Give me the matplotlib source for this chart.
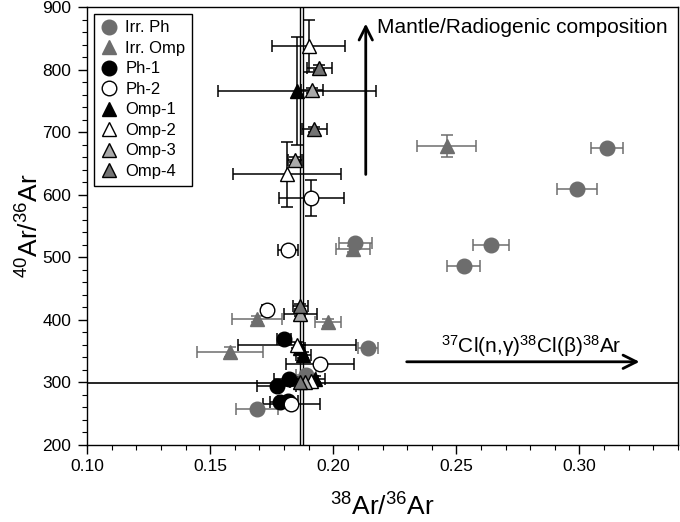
import matplotlib
matplotlib.use('Agg')
import matplotlib.pyplot as plt
from matplotlib.ticker import MultipleLocator

plt.rcParams['font.family'] = ['Liberation Sans', 'DejaVu Sans']
plt.rcParams['mathtext.fontset'] = 'custom'
plt.rcParams['mathtext.rm'] = 'Liberation Sans'
plt.rcParams['mathtext.it'] = 'Liberation Sans:italic'

# datos: 38Ar/36Ar, 40Ar/36Ar y sus errores
irr_ph_x = [0.311, 0.299, 0.264, 0.253, 0.209, 0.214, 0.169, 0.189]
irr_ph_y = [675, 609, 520, 486, 523, 355, 258, 312]
irr_ph_xerr = [0.0065, 0.0083, 0.0073, 0.0067, 0.0066, 0.004, 0.0086, 0.004]
irr_ph_yerr = [4, 4, 4, 4, 4, 4, 4, 4]

irr_omp_x = [0.246, 0.208, 0.169, 0.198, 0.158]
irr_omp_y = [678, 513, 401, 396, 348]
irr_omp_xerr = [0.012, 0.007, 0.010, 0.0053, 0.0133]
irr_omp_yerr = [17, 5, 5, 5, 8]

ph1_x = [0.180, 0.182, 0.177, 0.1785, 0.1815]
ph1_y = [369, 305, 294, 268, 270]
ph1_xerr = [0.003, 0.006, 0.008, 0.004, 0.004]
ph1_yerr = [5, 5, 5, 5, 5]

ph2_x = [0.191, 0.1817, 0.1731, 0.1947, 0.1829]
ph2_y = [595, 511, 415, 329, 266]
ph2_xerr = [0.0132, 0.004, 0.002, 0.0137, 0.0116]
ph2_yerr = [29, 5, 5, 5, 5]

omp1_x = [0.1853, 0.1879, 0.1865, 0.1926]
omp1_y = [766, 344, 355, 305]
omp1_xerr = [0.032, 0.003, 0.002, 0.004]
omp1_yerr = [86, 5, 5, 5]

omp2_x = [0.190, 0.1811, 0.1853, 0.191]
omp2_y = [838, 633, 360, 303]
omp2_xerr = [0.0147, 0.0219, 0.024, 0.003]
omp2_yerr = [42, 52, 5, 5]

omp3_x = [0.1914, 0.1845, 0.1866, 0.1885]
omp3_y = [767, 656, 410, 300]
omp3_xerr = [0.0045, 0.003, 0.0067, 0.003]
omp3_yerr = [4, 4, 4, 4]

omp4_x = [0.1943, 0.1923, 0.1866, 0.1865]
omp4_y = [803, 705, 422, 301]
omp4_xerr = [0.005, 0.005, 0.003, 0.004]
omp4_yerr = [4, 4, 4, 4]

# referencias: atmósfera y relación 38/36 atmosférica
atm_40_36 = 298.56
atm_38_36 = [0.1866, 0.1877]

gris = '#6d6d6d'

fig = plt.figure(figsize=(6.8, 5.22), dpi=100)
ax = fig.add_axes([0.128, 0.1475, 0.869, 0.839])

ax.axhline(atm_40_36, color='black', lw=1.2, zorder=1)
for xv in atm_38_36:
    ax.axvline(xv, color='black', lw=1.0, zorder=1)

series = [
    ('Irr. Ph', irr_ph_x, irr_ph_y, irr_ph_xerr, irr_ph_yerr, 'o', gris, gris, gris),
    ('Irr. Omp', irr_omp_x, irr_omp_y, irr_omp_xerr, irr_omp_yerr, '^', gris, gris, gris),
    ('Ph-1', ph1_x, ph1_y, ph1_xerr, ph1_yerr, 'o', 'black', 'black', 'black'),
    ('Ph-2', ph2_x, ph2_y, ph2_xerr, ph2_yerr, 'o', 'white', 'black', 'black'),
    ('Omp-1', omp1_x, omp1_y, omp1_xerr, omp1_yerr, '^', 'black', 'black', 'black'),
    ('Omp-2', omp2_x, omp2_y, omp2_xerr, omp2_yerr, '^', 'white', 'black', 'black'),
    ('Omp-3', omp3_x, omp3_y, omp3_xerr, omp3_yerr, '^', '#a9a9a9', 'black', 'black'),
    ('Omp-4', omp4_x, omp4_y, omp4_xerr, omp4_yerr, '^', '#737373', 'black', 'black'),
]

for nombre, x, y, xe, ye, m, fc, ec, barc in series:
    ax.errorbar(x, y, xerr=xe, yerr=ye, fmt='none', ecolor=barc,
                elinewidth=1.1, capsize=4, capthick=1.1, zorder=2)
    ax.plot(x, y, m, ms=10.5, mfc=fc, mec=ec, mew=1.0, ls='none',
            label=nombre, zorder=3)

ax.set_xlim(0.10, 0.34)
ax.set_ylim(200, 900)
ax.xaxis.set_major_locator(MultipleLocator(0.05))
ax.xaxis.set_minor_locator(MultipleLocator(0.01))
ax.yaxis.set_major_locator(MultipleLocator(100))
ax.yaxis.set_minor_locator(MultipleLocator(20))
ax.xaxis.set_major_formatter(plt.FuncFormatter(lambda v, p: f'{v:.2f}'))
ax.tick_params(which='major', direction='out', length=6.5, width=1.0, labelsize=12.5)
ax.tick_params(axis='y', which='major', pad=5)
ax.tick_params(which='minor', direction='out', length=3.5, width=0.8)
for s in ax.spines.values():
    s.set_linewidth(1.0)

ax.set_xlabel(r'$^{38}$Ar/$^{36}$Ar', fontsize=19, labelpad=14)
ax.set_ylabel(r'$^{40}$Ar/$^{36}$Ar', fontsize=19, labelpad=-1)

# flechas y textos
ax.annotate('', xy=(0.2132, 878), xytext=(0.2132, 628),
            arrowprops=dict(arrowstyle='->', lw=2, color='black', mutation_scale=24))
ax.text(0.2178, 867, 'Mantle/Radiogenic composition', fontsize=15, va='center', ha='left')
ax.annotate('', xy=(0.3255, 333), xytext=(0.2287, 333),
            arrowprops=dict(arrowstyle='->', lw=2, color='black', mutation_scale=24))
ax.text(0.2436, 348, r'$^{37}$Cl(n,γ)$^{38}$Cl(β)$^{38}$Ar', fontsize=15,
        va='baseline', ha='left')

leg = ax.legend(loc='upper left', fontsize=12, frameon=True, fancybox=False,
                framealpha=1, edgecolor='black', handlelength=1.0, handletextpad=0.5,
                labelspacing=0.33, borderaxespad=0.4, borderpad=0.4)
leg.get_frame().set_linewidth(1.0)

fig.savefig('out.png', dpi=100)
